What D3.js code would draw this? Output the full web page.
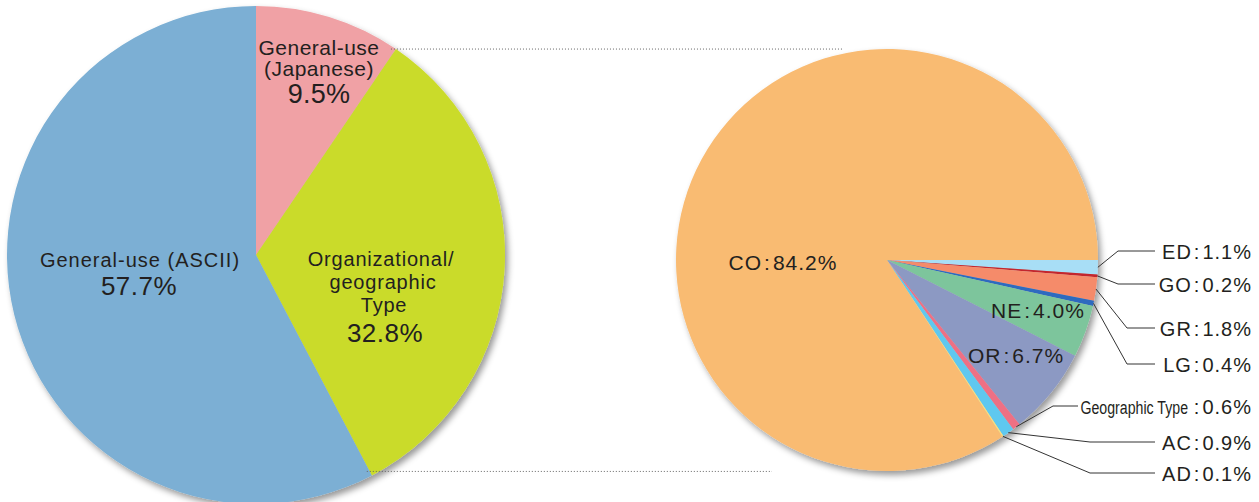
<!DOCTYPE html>
<html><head><meta charset="utf-8">
<script src="https://cdn.jsdelivr.net/npm/d3@7"></script>
<style>body{margin:0;background:#fff} svg{display:block}</style>
</head><body>
<svg id="chart" width="1259" height="502"></svg>
<script>
// ---- data ----
const leftCategories = ["General-use (Japanese)", "Organizational/geographic Type", "General-use (ASCII)"];
const leftValues = [9.5, 32.8, 57.7];
const leftColors = ["#f0a1a5", "#cadb2a", "#7bafd4"];

const rightCategories = ["ED", "GO", "GR", "LG", "NE", "OR", "Geographic Type", "AC", "AD", "CO"];
const rightValues = [1.1, 0.2, 1.8, 0.4, 4.0, 6.7, 0.6, 0.9, 0.1, 84.2];
const rightColors = ["#a8def6", "#c3272e", "#f58b6b", "#2e6bbf", "#7dc59c", "#8c99c3", "#ee6f84", "#5ec8ef", "#fbe07a", "#f9bb72"];

// ---- layout ----
const L = {cx: 256, cy: 255, r: 249};
const R = {cx: 887, cy: 260, r: 211};
const FONT = '"Liberation Sans", Arial, sans-serif';
const TXT = "#231f20";

const svg = d3.select("#chart");
const defs = svg.append("defs");
const f = defs.append("filter").attr("id", "shadow").attr("x", "-10%").attr("y", "-10%").attr("width", "125%").attr("height", "125%");
f.append("feDropShadow").attr("dx", 3).attr("dy", 4).attr("stdDeviation", 3)
  .attr("flood-color", "#000").attr("flood-opacity", 0.4);

// ---- left pie ----
const leftPie = d3.pie().sort(null).startAngle(0).endAngle(2 * Math.PI);
const leftArcs = leftPie(leftValues);
const leftArc = d3.arc().innerRadius(0).outerRadius(L.r);
const gL = svg.append("g").attr("transform", `translate(${L.cx},${L.cy})`).attr("filter", "url(#shadow)");
gL.selectAll("path").data(leftArcs).join("path")
  .attr("d", leftArc).attr("fill", (d, i) => leftColors[i]);

// ---- right pie ----
const rightPie = d3.pie().sort(null).startAngle(Math.PI / 2).endAngle(Math.PI / 2 + 2 * Math.PI);
const rightArcs = rightPie(rightValues);
const rightArc = d3.arc().innerRadius(0).outerRadius(R.r);
const edgeArc = d3.arc().innerRadius(R.r).outerRadius(R.r);
const gR = svg.append("g").attr("transform", `translate(${R.cx},${R.cy})`).attr("filter", "url(#shadow)");
gR.selectAll("path").data(rightArcs).join("path")
  .attr("d", rightArc).attr("fill", (d, i) => rightColors[i]);

// ---- dotted connectors ----
function edgePt(angle, r) { return [Math.sin(angle) * r, -Math.cos(angle) * r]; }
const topPt = edgePt(leftArcs[0].endAngle, L.r);
const botPt = edgePt(leftArcs[1].endAngle, L.r);
const dotLines = [
  {x1: L.cx + topPt[0] - 5, y1: L.cy + topPt[1], x2: 843},
  {x1: L.cx + botPt[0] - 5, y1: L.cy + botPt[1] - 4, x2: 772}
];
svg.selectAll("line.dot").data(dotLines).join("line").attr("class", "dot")
  .attr("x1", d => d.x1).attr("y1", d => d.y1).attr("x2", d => d.x2).attr("y2", d => d.y1)
  .attr("stroke", "#666").attr("stroke-width", 1).attr("stroke-dasharray", "1,2");

// ---- left labels ----
const leftLabelLines = [
  [{t: "General-use", x: 319, y: 55, s: 21, ls: 0.5}, {t: "(Japanese)", x: 319, y: 76, s: 21, ls: 0.5}, {t: leftValues[0].toFixed(1) + "%", x: 319, y: 103, s: 27, ls: 0.3}],
  [{t: "Organizational/", x: 381, y: 266, s: 20, ls: 0.8}, {t: "geographic", x: 383, y: 289, s: 20, ls: 0.8}, {t: "Type", x: 384, y: 312, s: 20, ls: 0.8}, {t: leftValues[1].toFixed(1) + "%", x: 385, y: 342, s: 26, ls: 0.5}],
  [{t: "General-use (ASCII)", x: 140, y: 267, s: 20, ls: 1}, {t: leftValues[2].toFixed(1) + "%", x: 139, y: 295, s: 26, ls: 0.5}]
];
leftLabelLines.forEach(lines => {
  svg.append("g").selectAll("text").data(lines).join("text")
    .attr("x", d => d.x).attr("y", d => d.y).attr("text-anchor", "middle")
    .attr("letter-spacing", d => d.ls)
    .attr("font-family", FONT).attr("font-size", d => d.s).attr("fill", TXT).text(d => d.t);
});

// label with "NAME : value%" spacing
function pctLabel(sel, name, value, size) {
  sel.attr("font-family", FONT).attr("font-size", size).attr("fill", TXT).attr("letter-spacing", 1);
  if (name) sel.append("tspan").text(name);
  sel.append("tspan").attr("dx", name ? 2 : 0).text(":");
  sel.append("tspan").attr("dx", 2).text(value.toFixed(1) + "%");
  return sel;
}

// ---- right internal labels ----
const innerLabelPos = {"CO": [783, 270], "NE": [1038, 318], "OR": [1016, 363]};
rightCategories.forEach((c, i) => {
  if (!innerLabelPos[c]) return;
  const t = svg.append("text").attr("x", innerLabelPos[c][0]).attr("y", innerLabelPos[c][1])
    .attr("text-anchor", "middle");
  pctLabel(t, c, rightValues[i], 21);
});

// ---- right external labels with leaders ----
const outsideCats = ["ED", "GO", "GR", "LG", "Geographic Type", "AC", "AD"];
const outLineY = [251, 284, 328, 364, 406, 442, 473];
const outElbowX = [1118, 1118, 1127, 1127, 1053, 1090, 1090];
const outEndX = [1155, 1155, 1155, 1155, 1078, 1155, 1155];
const textEndX = 1252;
outsideCats.forEach((c, k) => {
  const i = rightCategories.indexOf(c);
  const p = edgeArc.centroid(rightArcs[i]);
  const px = R.cx + p[0], py = R.cy + p[1];
  svg.append("polyline")
    .attr("points", `${px},${py} ${outElbowX[k]},${outLineY[k]} ${outEndX[k]},${outLineY[k]}`)
    .attr("fill", "none").attr("stroke", "#333").attr("stroke-width", 1);
  const ty = outLineY[k] + 8;
  if (c === "Geographic Type") {
    // condensed name drawn by horizontal scaling
    svg.append("text").attr("transform", `translate(1188,${ty}) scale(0.745,1)`)
      .attr("text-anchor", "end").attr("font-family", FONT).attr("font-size", 19)
      .attr("fill", TXT).text(c);
    const t = svg.append("text").attr("x", textEndX).attr("y", ty).attr("text-anchor", "end");
    pctLabel(t, null, rightValues[i], 20);
  } else {
    const t = svg.append("text").attr("x", textEndX).attr("y", ty).attr("text-anchor", "end");
    pctLabel(t, c, rightValues[i], 20);
  }
});
</script>
</body></html>
